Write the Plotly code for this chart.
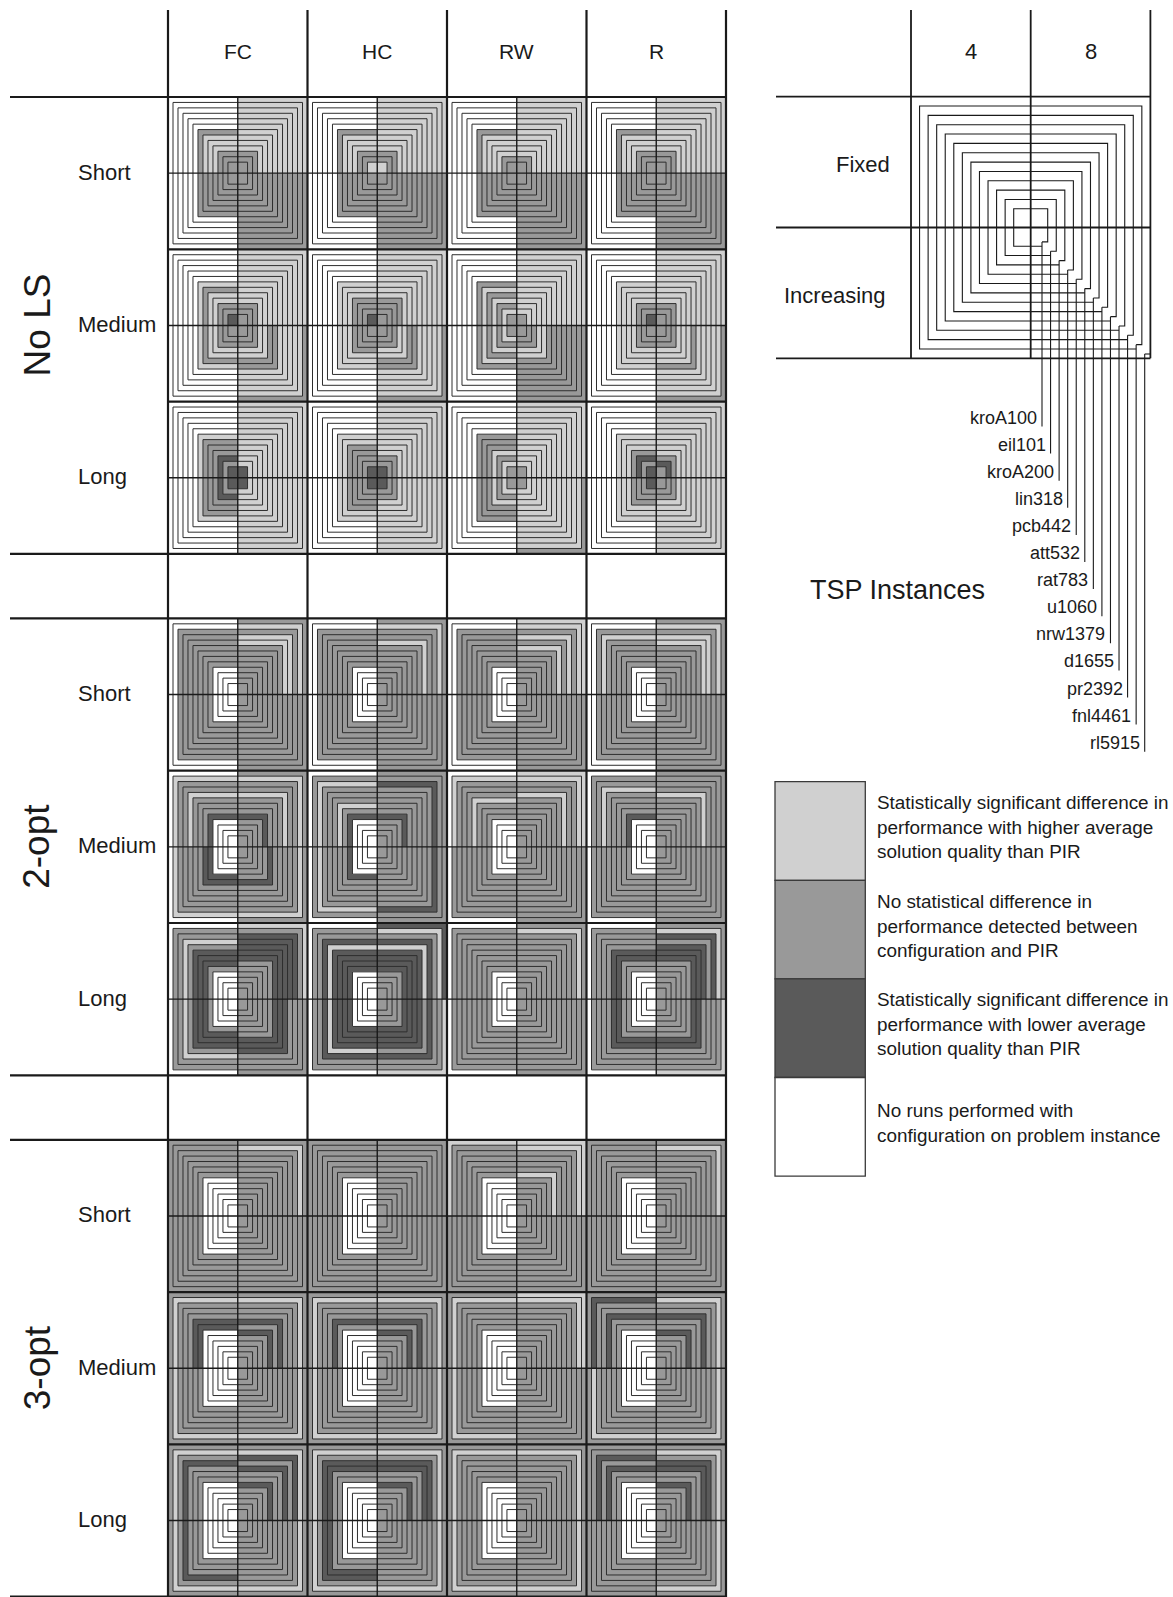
import plotly.graph_objects as go

# ---------------------------------------------------------------- data ----
INSTANCES = ["kroA100", "eil101", "kroA200", "lin318", "pcb442", "att532",
             "rat783", "u1060", "nrw1379", "d1655", "pr2392", "fnl4461", "rl5915"]
OPERATORS = ["FC", "HC", "RW", "R"]
LOCAL_SEARCH = ["No LS", "2-opt", "3-opt"]
SCHEDULES = ["Short", "Medium", "Long"]
ISLANDS = ["4", "8"]
MIGRATION = ["Fixed", "Increasing"]

# Outcome codes, one letter per instance, read from the outer ring (rl5915)
# to the centre (kroA100).
#   L = better than PIR, M = no difference, D = worse than PIR, W = no runs
# Each cell holds [4/Fixed, 8/Fixed, 4/Increasing, 8/Increasing].
NOLS_SHORT = [
    ["WWWWWWMLLLMMM", "LLLLLLLLLLMMM", "WWWWWWMMMMMMM", "MMMMMMMMMMMMM"],
    ["WWWWWWMLLLMML", "LLLLLLLLLLMML", "WWWWWWMMMMMMM", "MMMMMMMMMMMMM"],
    ["WWWWWWMLLLLMM", "LLLLLLLLLLLMM", "WWWWWWMMMMMMM", "MMMMMMMMMMMMM"],
    ["WWWWWWMLLLMMM", "LLLLLLLLLLMMM", "WWWWWWMMMMMMM", "MMMMMMMMMMMMM"],
]
NOLS_MEDIUM = [
    ["WWWWWWLMLLMMD", "LLLLLLLLLLMMM", "WWWWWWLMLLMMM", "MLLLLLMMLLMMM"],
    ["WWWWWWLLLMMMD", "LLLLLLLLLMMMM", "WWWWWWLLLMMMM", "MLLLLLMMLLMMM"],
    ["WWWWWWMLMLMLM", "LLLLLLLLLLLLM", "WWWWWWMLMLMLM", "MMMMMMMMLLMMM"],
    ["WWWWWWLLLLMMD", "LLLLLLLLLLMMM", "WWWWWWLLLLMMM", "MLLLLLMLLLMMM"],
]
NOLS_LONG = [
    ["WWWWWWLMMMDMD", "LLLLLLLLLLLLD", "WWWWWWLMMMDMD", "LLLLLLLLLLLLD"],
    ["WWWWWWLLMMMMD", "LLLLLLLLLLMMD", "WWWWWWLLMMMMD", "LLLLLLLLLLMMD"],
    ["WWWWWWMMMLMLM", "LLLLLLLLLLLLM", "WWWWWWMMMLMLM", "MLLLLLLLLLLLM"],
    ["WWWWWWLLLMDMD", "LLLLLLLLLLMDM", "WWWWWWLLLMMMD", "LLLLLLLLLLMMM"],
]
OPT2_SHORT = [
    ["WWMMMMMMMWWWW", "MLMLLMMMMMMMM", "WWMMMMMMMWWWW", "MMMMMMMMMMMMM"],
    ["WWMMMMMMMWWWW", "MLMMLMMMMMMMM", "WWMMMMMMMWWWW", "MMMMMMMMMMMMM"],
    ["WWMMMMMMMWWWW", "LLMLMLMMMMMMM", "WWMMMMMMMWWWW", "MMMMMMMMMMMMM"],
    ["WWMLMMMMMWWWW", "MLMLLMMMMMMMM", "WWMMMMMMMWWWW", "MMMMMMMMMMMMM"],
]
OPT2_MEDIUM = [
    ["WLMMLMMMDWWWW", "MLMMLMMMDMMMM", "WLMMMMMDDWWWW", "MLMMMMMDMMMMM"],
    ["WMLMMMLMDWWWW", "MMDMMMMMDMMMM", "WMLMMMMMDWWWW", "MMDMMMMMMMMMM"],
    ["WLMMMLMMMWWWW", "LLMMLMMMMMMMM", "WMMMMMMMMWWWW", "MMMMMMMMMMMMM"],
    ["WMMLMMMMDWWWW", "MMMMLMMMMMMMM", "WMMMMMMMMWWWW", "MMMMMMMMMMMMM"],
]
OPT2_LONG = [
    ["WMMLMDDDMWWWW", "LMDDDDDMMMMMM", "WMMLMDDDMWWWW", "MMMMDDDMMMMMM"],
    ["WMMDLDDDDWWWW", "DLMDLDDDDMMMM", "WMMDLDDDDWWWW", "LMMDMDDDDMMMM"],
    ["WMMMMMMMMWWWW", "MLMMMMMMMMMMM", "WMMMMMMMMWWWW", "MMMMMMMMMMMMM"],
    ["WMMMMDDMMWWWW", "MLDMDDDMMMMMM", "WMMMMDDMMWWWW", "LMMMMDDMMMMMM"],
]
OPT3_SHORT = [
    ["MMMMMMMWWWWWW", "MLMMMMMMMMMMM", "MMMMMMMWWWWWW", "MMMMMMMMMMMMM"],
    ["MMMMMMMWWWWWW", "MMMMMMMMMMMMM", "MMMMMMMWWWWWW", "MMMMMMMMMMMMM"],
    ["LMMMMMMWWWWWW", "LLMMMMLMMMMMM", "MMMMMMMWWWWWW", "MMMMMMMMMMMMM"],
    ["MMMMMMMWWWWWW", "MLMMMMMMMMMMM", "MMMMMMMWWWWWW", "MMMMMMMMMMMMM"],
]
OPT3_MEDIUM = [
    ["MLMMMDDWWWWWW", "MLMMMDMDMMMMM", "MLMMMMMWWWWWW", "MLMMMMMMMMMMM"],
    ["MLMMMDMWWWWWW", "MLMMMDMDMMMMM", "MLMMMMMWWWWWW", "MLMMMMMMMMMMM"],
    ["MLMMMMMWWWWWW", "LLMMMMMMMMMMM", "MLMMMMMWWWWWW", "MMMMMMMMMMMMM"],
    ["MDMMDMMWWWWWW", "MLMMDMMDMMMMM", "MLMMMMMWWWWWW", "MLMMMMMMMMMMM"],
]
OPT3_LONG = [
    ["MLMDMMMWWWWWW", "MLDMDMMDMMMMM", "MLMDMMMWWWWWW", "MLMMMMMMMMMMM"],
    ["MLMDDMMWWWWWW", "MLMDDMMDMMMMM", "MLMDDMMWWWWWW", "MLMMMMMMMMMMM"],
    ["MLMMMMMWWWWWW", "MLMMMMMMMMMMM", "MLMMMMMWWWWWW", "MLMMMMMMMMMMM"],
    ["MMDMDMMWWWWWW", "MLMDDMMDMMMMM", "MMMMMMMWWWWWW", "MLMMMMMMMMMMM"],
]
SECTIONS = [
    [NOLS_SHORT, NOLS_MEDIUM, NOLS_LONG],
    [OPT2_SHORT, OPT2_MEDIUM, OPT2_LONG],
    [OPT3_SHORT, OPT3_MEDIUM, OPT3_LONG],
]

OUTCOME_ORDER = ["L", "M", "D", "W"]
OUTCOME_TEXT = {
    "L": "Statistically significant difference in<br>performance with higher average<br>solution quality than PIR",
    "M": "No statistical difference in<br>performance detected between<br>configuration and PIR",
    "D": "Statistically significant difference in<br>performance with lower average<br>solution quality than PIR",
    "W": "No runs performed with<br>configuration on problem instance",
}

# --------------------------------------------------------------- style ----
FILL = {"L": "#d0d0d0", "M": "#999999", "D": "#5a5a5a", "W": "#ffffff"}
FONT = "Liberation Sans, Arial, Helvetica, sans-serif"
INK = "#1a1a1a"

W, H = 1173, 1597
X0, CW = 168.0, 139.5            # table left edge, column width
Y0, RH, GAP = 97.0, 152.3, 64.5  # header bottom, row height, blank row height
TOP = 10.0
LABEL_LEFT = 10.0
INNER_HW, INNER_HH = 9.8, 11.0   # half size of the centre square

N = len(INSTANCES)
TABLE_RIGHT = X0 + len(OPERATORS) * CW
SECTION_H = len(SCHEDULES) * RH


def section_top(s):
    return Y0 + s * (SECTION_H + GAP)


def ring_half(k, outer, inner):
    return outer - k * (outer - inner) / (N - 1)


fig = go.Figure()

# ------------------------------------------------------- glyph fills ----
poly = {c: ([], []) for c in OUTCOME_ORDER}
ring_x, ring_y = [], []

for s, rows in enumerate(SECTIONS):
    for r, row in enumerate(rows):
        cy = section_top(s) + (r + 0.5) * RH
        for j, cell in enumerate(row):
            cx = X0 + (j + 0.5) * CW
            hws = [ring_half(k, CW / 2, INNER_HW) for k in range(N)]
            hhs = [ring_half(k, RH / 2, INNER_HH) for k in range(N)]
            for q, codes in enumerate(cell):
                sx = -1 if q in (0, 2) else 1
                sy = -1 if q in (0, 1) else 1
                for k, ch in enumerate(codes):
                    a, b = hws[k], hhs[k]
                    if k < N - 1:
                        a2, b2 = hws[k + 1], hhs[k + 1]
                        xs = [cx + sx * a, cx + sx * a, cx, cx, cx + sx * a2, cx + sx * a2, cx + sx * a]
                        ys = [cy, cy + sy * b, cy + sy * b, cy + sy * b2, cy + sy * b2, cy, cy]
                    else:
                        xs = [cx, cx + sx * a, cx + sx * a, cx, cx]
                        ys = [cy, cy, cy + sy * b, cy + sy * b, cy]
                    px, py = poly[ch]
                    px.extend(xs + [None])
                    py.extend(ys + [None])
            for k in range(1, N):
                a, b = hws[k], hhs[k]
                ring_x.extend([cx - a, cx + a, cx + a, cx - a, cx - a, None])
                ring_y.extend([cy - b, cy - b, cy + b, cy + b, cy - b, None])

for ch in OUTCOME_ORDER:
    px, py = poly[ch]
    fig.add_trace(go.Scatter(x=px, y=py, mode="lines", fill="toself",
                             fillcolor=FILL[ch], line=dict(width=0, color=FILL[ch]),
                             hoverinfo="skip", showlegend=False))

fig.add_trace(go.Scatter(x=ring_x, y=ring_y, mode="lines",
                         line=dict(width=1, color="#2e2e2e"),
                         hoverinfo="skip", showlegend=False))


def add_lines(segments, width, color=INK):
    xs, ys = [], []
    for (x1, y1, x2, y2) in segments:
        xs.extend([x1, x2, None])
        ys.extend([y1, y2, None])
    fig.add_trace(go.Scatter(x=xs, y=ys, mode="lines",
                             line=dict(width=width, color=color),
                             hoverinfo="skip", showlegend=False))


# ------------------------------------------------------- table grid ----
grid = []
for j in range(len(OPERATORS) + 1):
    x = X0 + j * CW
    grid.append((x, TOP, x, H))
grid.append((LABEL_LEFT, Y0, TABLE_RIGHT, Y0))
for s in range(len(SECTIONS)):
    t = section_top(s)
    grid.append((LABEL_LEFT, t, TABLE_RIGHT, t))
    grid.append((LABEL_LEFT, t + SECTION_H, TABLE_RIGHT, t + SECTION_H))
    for r in range(1, len(SCHEDULES)):
        grid.append((X0, t + r * RH, TABLE_RIGHT, t + r * RH))
add_lines(grid, 2.2)

cross = []
for s in range(len(SECTIONS)):
    t = section_top(s)
    for r in range(len(SCHEDULES)):
        y = t + (r + 0.5) * RH
        cross.append((X0, y, TABLE_RIGHT, y))
    for j in range(len(OPERATORS)):
        x = X0 + (j + 0.5) * CW
        cross.append((x, t, x, t + SECTION_H))
add_lines(cross, 1.4)

# --------------------------------------------------- key glyph (4/8) ----
KX0, KCW = 911.0, 119.7
KY0, KRH = 96.7, 130.8
KLEFT = 776.0
KCX, KCY = KX0 + KCW, KY0 + KRH
KRIGHT = KX0 + 2 * KCW
KBOTTOM = KY0 + 2 * KRH
key_grid = []
for j in range(3):
    x = KX0 + j * KCW
    key_grid.append((x, TOP, x, KBOTTOM))
for i in range(3):
    y = KY0 + i * KRH
    key_grid.append((KLEFT, y, KRIGHT, y))
add_lines(key_grid, 1.8)

LBL_Y0, LBL_DY = 417.5, 27.1
NOTCH_X, NOTCH_Y = 5.7, 4.3
kx, ky = [], []
for k in range(N):
    a = ring_half(k, KCW, 17.0)
    b = ring_half(k, KRH, 18.7)
    inst = N - 1 - k                      # index into INSTANCES
    lead_x = KCX + a - NOTCH_X
    label_y = LBL_Y0 + inst * LBL_DY
    if k > 0:
        kx.extend([lead_x, KCX - a, KCX - a, KCX + a, KCX + a, lead_x, None])
        ky.extend([KCY + b, KCY + b, KCY - b, KCY - b, KCY + b - NOTCH_Y, KCY + b - NOTCH_Y, None])
    else:
        kx.extend([KCX + a, lead_x, None])
        ky.extend([KCY + b - NOTCH_Y, KCY + b - NOTCH_Y, None])
    kx.extend([lead_x, lead_x, None])
    ky.extend([KCY + b - NOTCH_Y, label_y + 9, None])
    fig.add_annotation(x=lead_x - 3, y=label_y, text=INSTANCES[inst],
                       xanchor="right", yanchor="middle", showarrow=False,
                       font=dict(family=FONT, size=18, color=INK))
fig.add_trace(go.Scatter(x=kx, y=ky, mode="lines", line=dict(width=1.1, color=INK),
                         hoverinfo="skip", showlegend=False))

# ------------------------------------------------------ outcome key ----
BX0, BX1 = 775.0, 865.3
BY0, BH = 781.7, 98.6
for i, ch in enumerate(OUTCOME_ORDER):
    y1 = BY0 + i * BH
    fig.add_shape(type="rect", x0=BX0, x1=BX1, y0=y1, y1=y1 + BH,
                  xref="x", yref="y", fillcolor=FILL[ch],
                  line=dict(color="#3a3a3a", width=1.3), layer="above")
    fig.add_annotation(x=BX1 + 10, y=y1 + BH / 2 - 4, text=OUTCOME_TEXT[ch],
                       xanchor="left", yanchor="middle", align="left", showarrow=False,
                       font=dict(family=FONT, size=18.9, color=INK))

# ------------------------------------------------------------ labels ----
for j, op in enumerate(OPERATORS):
    fig.add_annotation(x=X0 + (j + 0.5) * CW, y=51, text=op,
                       showarrow=False, font=dict(family=FONT, size=21, color=INK))
for s, ls in enumerate(LOCAL_SEARCH):
    t = section_top(s)
    fig.add_annotation(x=37, y=t + SECTION_H / 2, text=ls, textangle=-90,
                       showarrow=False, font=dict(family=FONT, size=37, color=INK))
    for r, sc in enumerate(SCHEDULES):
        fig.add_annotation(x=76, y=t + (r + 0.5) * RH - 1, text=sc, xanchor="left",
                           showarrow=False, font=dict(family=FONT, size=22, color=INK))

for j, isl in enumerate(ISLANDS):
    fig.add_annotation(x=KX0 + (j + 0.5) * KCW, y=51, text=isl,
                       showarrow=False, font=dict(family=FONT, size=22, color=INK))
fig.add_annotation(x=KX0 - 19, y=KY0 + KRH / 2 + 2, text=MIGRATION[0], xanchor="right",
                   showarrow=False, font=dict(family=FONT, size=22, color=INK))
fig.add_annotation(x=KLEFT + 6, y=KY0 + 1.5 * KRH + 3, text=MIGRATION[1], xanchor="left",
                   showarrow=False, font=dict(family=FONT, size=22, color=INK))
fig.add_annotation(x=808, y=590, text="TSP Instances", xanchor="left",
                   showarrow=False, font=dict(family=FONT, size=27, color=INK))

fig.update_xaxes(range=[0, W], visible=False, fixedrange=True)
fig.update_yaxes(range=[H, 0], visible=False, fixedrange=True)
fig.update_layout(width=W, height=H, margin=dict(l=0, r=0, t=0, b=0),
                  paper_bgcolor="white", plot_bgcolor="white", showlegend=False)

fig.write_html("out.html")
